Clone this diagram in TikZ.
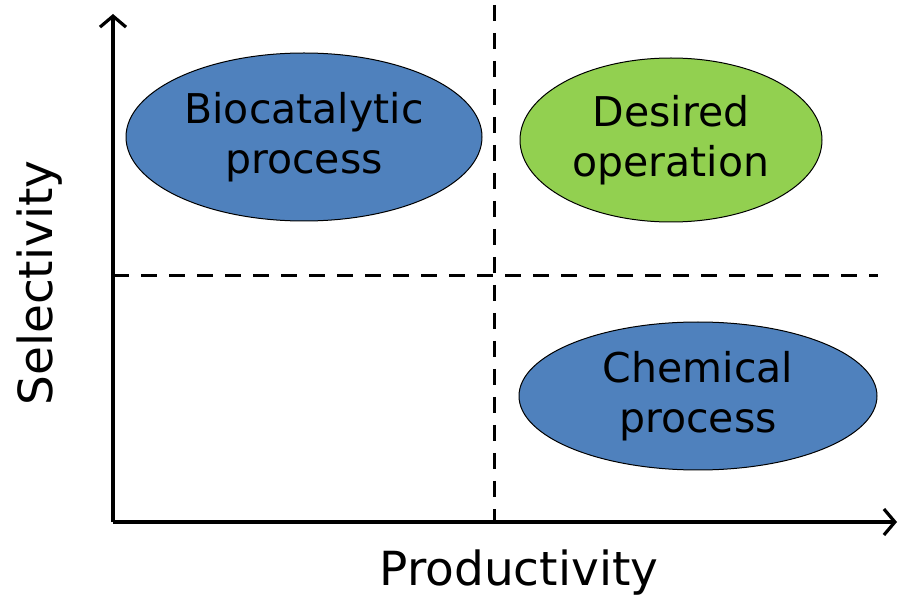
\documentclass[tikz,border=0pt]{standalone}
\usepackage{fontspec}
\setmainfont{DejaVu Sans}
\usetikzlibrary{arrows.meta,shapes.geometric}
\definecolor{procblue}{HTML}{4F81BD}
\definecolor{goalgreen}{HTML}{92D050}
\tikzset{
  region/.style={ellipse, draw=black, line width=1pt, align=center,
    font=\fontsize{41}{50}\selectfont, inner sep=0pt},
  axis/.style={line width=3.2pt, -{Straight Barb[length=11pt, width=26pt, line width=3.2pt]}},
  split/.style={line width=3pt, dash pattern=on 16pt off 12pt},
  label/.style={font=\fontsize{47}{50}\selectfont}
}
\begin{document}
\begin{tikzpicture}[x=1pt, y=1pt]
  \useasboundingbox (0,0) rectangle (898,598);
  \coordinate (o) at (113,76);
  \coordinate (ytop) at (113,584);
  \coordinate (xend) at (897,76);
  \coordinate (vtop) at (494,593);
  \coordinate (vbot) at (494,76);
  \coordinate (hleft) at (113,322);
  \coordinate (hright) at (878,322);
  \draw[split] (vtop) -- (vbot);
  \draw[split] (hleft) -- (hright);
  \draw[axis] (o) -- (ytop);
  \draw[axis] (o) -- (xend);
  \node[region, fill=procblue, minimum width=356pt, minimum height=168pt] (bio) at (304,461) {Biocatalytic\\process};
  \node[region, fill=goalgreen, minimum width=302pt, minimum height=164pt] (des) at (671,458) {Desired\\operation};
  \node[region, fill=procblue, minimum width=358pt, minimum height=148pt] (chem) at (698,202) {Chemical\\process};
  \node[label] (prod) at (519,25) {Productivity};
  \node[label, rotate=90] (sel) at (40,315) {Selectivity};
\end{tikzpicture}
\end{document}
